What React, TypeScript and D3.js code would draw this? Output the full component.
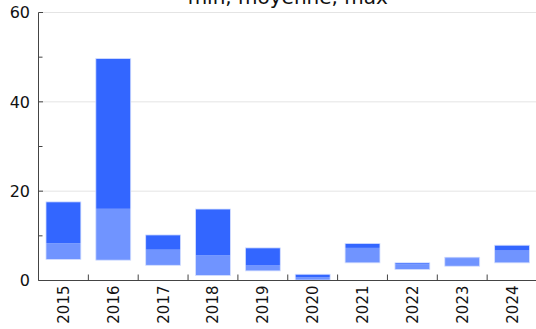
import React from "react";
import * as d3 from "d3";

const years = ["2015", "2016", "2017", "2018", "2019", "2020", "2021", "2022", "2023", "2024"];
const minValues = [4.7, 4.55, 3.4, 1.1, 2.15, 0.1, 3.95, 2.45, 3.2, 3.95];
const meanValues = [8.35, 16.05, 6.9, 5.6, 3.35, 0.67, 7.3, 3.6, 5.0, 6.7];
const maxValues = [17.6, 49.7, 10.2, 16.0, 7.3, 1.4, 8.3, 3.95, 5.2, 7.9];
const yTicks = [0, 20, 40, 60];
const yMinorTicks = [10, 30, 50];
const title = "min, moyenne, max";

const W = 536;
const H = 329;
const left = 38.5;
const right = 537;
const top = 12.5;
const bottom = 280.5;

export default function App() {
  const x = d3.scaleBand<string>().domain(years).range([left, right]).paddingInner(0).paddingOuter(0);
  const y = d3.scaleLinear().domain([0, 60]).range([bottom, top]);
  const bw = x.bandwidth() * 0.7;
  const dark = "#3366ff";
  const light = "#7094ff";
  const font = "DejaVu Sans, sans-serif";

  return (
    <svg width={W} height={H} style={{ position: "absolute", left: 0, top: 0 }} fontFamily={font}>
      <rect x={0} y={0} width={W} height={H} fill="#fff" />
      {yTicks.filter((t) => t > 0).map((t) => (
        <line key={"g" + t} x1={left} x2={right} y1={y(t)} y2={y(t)} stroke="#e4e4e4" strokeWidth={1} />
      ))}
      {years.map((yr, i) => {
        const cx = (x(yr) as number) + x.bandwidth() / 2;
        return (
          <g key={yr}>
            <rect
              x={cx - bw / 2}
              y={y(meanValues[i])}
              width={bw}
              height={y(minValues[i]) - y(meanValues[i])}
              fill={light}
            />
            <rect
              x={cx - bw / 2}
              y={y(maxValues[i])}
              width={bw}
              height={y(meanValues[i]) - y(maxValues[i])}
              fill={dark}
            />
            <rect
              x={cx - bw / 2}
              y={y(maxValues[i])}
              width={bw}
              height={y(minValues[i]) - y(maxValues[i])}
              fill="none"
              stroke="#d6e0ff"
              strokeWidth={0.8}
            />
          </g>
        );
      })}
      <line x1={left} x2={left} y1={top} y2={bottom} stroke="#444" strokeWidth={1} />
      <line x1={left} x2={right} y1={bottom} y2={bottom} stroke="#444" strokeWidth={1} />
      {yTicks.map((t) => (
        <g key={"t" + t}>
          <line x1={left} x2={left + 4.5} y1={y(t)} y2={y(t)} stroke="#444" />
          <text x={30} y={y(t)} dy="0.36em" textAnchor="end" fontSize={16} fill="#111">
            {t}
          </text>
        </g>
      ))}
      {yMinorTicks.map((t) => (
        <line key={"m" + t} x1={left} x2={left + 4} y1={y(t)} y2={y(t)} stroke="#444" />
      ))}
      {years.slice(1).map((yr) => (
        <line key={"xt" + yr} x1={x(yr) as number} x2={x(yr) as number} y1={bottom} y2={bottom - 6} stroke="#444" />
      ))}
      {years.map((yr) => {
        const cx = (x(yr) as number) + x.bandwidth() / 2;
        return (
          <text
            key={"xl" + yr}
            transform={`translate(${cx + 5.5},${bottom + 5}) rotate(-90)`}
            textAnchor="end"
            fontSize={15}
            fill="#111"
          >
            {yr}
          </text>
        );
      })}
      <text x={(left + right) / 2} y={4} textAnchor="middle" fontSize={20} fill="#111">
        {title}
      </text>
    </svg>
  );
}
